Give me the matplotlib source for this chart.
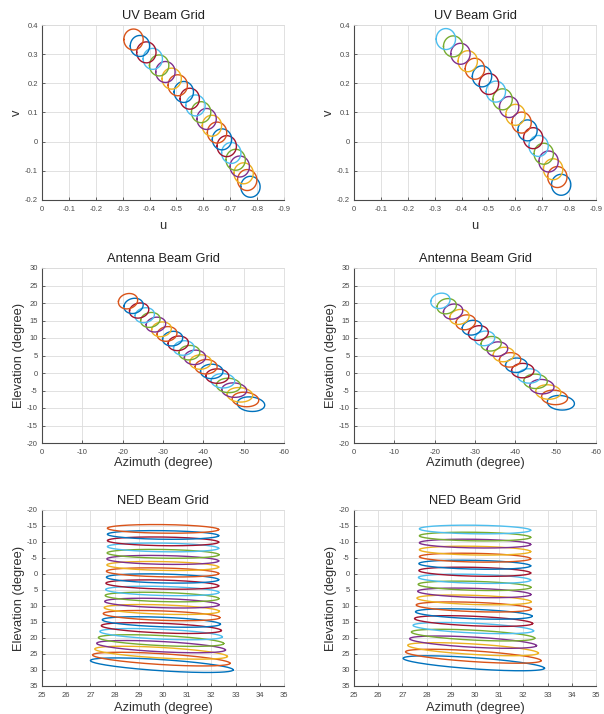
import numpy as np
import matplotlib
matplotlib.use("Agg")
import matplotlib.pyplot as plt

plt.rcParams['font.family'] = ['Liberation Sans', 'DejaVu Sans']
plt.rcParams['axes.unicode_minus'] = False

# MATLAB default line colour order
beam_colors = ['#0072BD', '#D95319', '#EDB120', '#7E2F8E',
               '#77AC30', '#4DBEEE', '#A2142F']

# Beam radius in direction-cosine space
beam_radius_uv = 0.036

# ---- Scan A (23 beams, listed in plotting order) ----
scan_a_u = [-0.7752, -0.7631, -0.7498, -0.7354, -0.7201, -0.7039, -0.6870, -0.6694,
            -0.6510, -0.6319, -0.6122, -0.5918, -0.5708, -0.5494, -0.5273, -0.5048,
            -0.4822, -0.4590, -0.4357, -0.4120, -0.3881, -0.3642, -0.3403]
scan_a_v = [-0.1547, -0.1316, -0.1085, -0.0852, -0.0621, -0.0387, -0.0154, 0.0079,
            0.0312, 0.0546, 0.0778, 0.1011, 0.1243, 0.1473, 0.1704, 0.1934,
            0.2161, 0.2389, 0.2614, 0.2839, 0.3062, 0.3282, 0.3502]
# NED footprints: centre azimuth/elevation, half width, half height, tilt
scan_a_ned_az = [29.95, 29.93, 29.92, 29.92, 29.92, 29.92, 29.93, 29.93, 29.94, 29.95,
                 29.95, 29.96, 29.97, 29.97, 29.98, 29.98, 29.99, 29.99, 30.00, 30.00,
                 30.00, 30.00, 30.00]
scan_a_ned_el = [28.5, 26.6, 24.6, 22.7, 20.8, 18.8, 16.9, 15.0, 13.0, 11.1,
                 9.1, 7.2, 5.3, 3.3, 1.4, -0.5, -2.5, -4.4, -6.3, -8.3,
                 -10.2, -12.2, -14.1]
scan_a_ned_hw = [2.95, 2.84, 2.74, 2.66, 2.59, 2.53, 2.48, 2.44, 2.41, 2.38,
                 2.36, 2.35, 2.34, 2.33, 2.32, 2.32, 2.31, 2.31, 2.31, 2.30,
                 2.30, 2.30, 2.30]
scan_a_ned_hh = [1.75, 1.70, 1.65, 1.61, 1.57, 1.54, 1.51, 1.49, 1.47, 1.45,
                 1.43, 1.42, 1.41, 1.40, 1.39, 1.38, 1.37, 1.37, 1.36, 1.35,
                 1.35, 1.34, 1.34]
scan_a_ned_tilt = [1.45, 1.30, 1.16, 1.04, 0.93, 0.84, 0.76, 0.69, 0.63, 0.58,
                   0.53, 0.49, 0.45, 0.42, 0.39, 0.36, 0.33, 0.31, 0.28, 0.26,
                   0.24, 0.22, 0.20]

# ---- Scan B (20 beams, listed in plotting order) ----
scan_b_u = [-0.7704, -0.7562, -0.7406, -0.7236, -0.7056, -0.6864, -0.6663, -0.6452,
            -0.6232, -0.6004, -0.5769, -0.5526, -0.5276, -0.5020, -0.4761, -0.4496,
            -0.4230, -0.3960, -0.3688, -0.3416]
scan_b_v = [-0.1478, -0.1213, -0.0946, -0.0680, -0.0414, -0.0147, 0.0120, 0.0387,
            0.0654, 0.0920, 0.1187, 0.1452, 0.1716, 0.1978, 0.2239, 0.2499,
            0.2758, 0.3013, 0.3267, 0.3518]
scan_b_ned_az = [29.95, 29.93, 29.92, 29.92, 29.92, 29.93, 29.94, 29.95, 29.95, 29.96,
                 29.97, 29.98, 29.98, 29.99, 29.99, 30.00, 30.00, 30.00, 30.00, 30.00]
scan_b_ned_el = [27.9, 25.7, 23.5, 21.3, 19.1, 16.9, 14.7, 12.5, 10.3, 8.1,
                 5.9, 3.7, 1.5, -0.7, -2.9, -5.1, -7.3, -9.5, -11.7, -13.9]
scan_b_ned_hw = [2.92, 2.80, 2.70, 2.62, 2.55, 2.49, 2.44, 2.41, 2.38, 2.36,
                 2.34, 2.33, 2.32, 2.31, 2.31, 2.30, 2.30, 2.30, 2.30, 2.30]
scan_b_ned_hh = [1.75, 1.69, 1.64, 1.59, 1.55, 1.52, 1.49, 1.47, 1.45, 1.43,
                 1.41, 1.40, 1.39, 1.38, 1.37, 1.36, 1.36, 1.35, 1.34, 1.34]
scan_b_ned_tilt = [1.55, 1.38, 1.22, 1.08, 0.96, 0.86, 0.77, 0.69, 0.62, 0.56,
                   0.51, 0.46, 0.42, 0.38, 0.35, 0.32, 0.29, 0.26, 0.24, 0.22]

# Axis ticks and labels
uv_xticks = [0, -0.1, -0.2, -0.3, -0.4, -0.5, -0.6, -0.7, -0.8, -0.9]
uv_xticklabels = ['0', '-0.1', '-0.2', '-0.3', '-0.4', '-0.5', '-0.6', '-0.7', '-0.8', '-0.9']
uv_yticks = [-0.2, -0.1, 0, 0.1, 0.2, 0.3, 0.4]
uv_yticklabels = ['-0.2', '-0.1', '0', '0.1', '0.2', '0.3', '0.4']
ant_xticks = [0, -10, -20, -30, -40, -50, -60]
ant_yticks = [-20, -15, -10, -5, 0, 5, 10, 15, 20, 25, 30]
ned_xticks = [25, 26, 27, 28, 29, 30, 31, 32, 33, 34, 35]
ned_yticks = [-20, -15, -10, -5, 0, 5, 10, 15, 20, 25, 30, 35]

W, H = 604, 714
fig = plt.figure(figsize=(W / 100, H / 100), dpi=100)

t = np.linspace(0, 2 * np.pi, 240)


def add_axes_px(x0, y0, x1, y1):
    return fig.add_axes([x0 / W, 1 - y1 / H, (x1 - x0) / W, (y1 - y0) / H])


def style(ax, title, xlabel, ylabel, xlim, ylim, xticks, yticks,
          xticklabels=None, yticklabels=None, xlabelpad=2.0):
    ax.set_xlim(*xlim)
    ax.set_ylim(*ylim)
    ax.set_xticks(xticks)
    ax.set_yticks(yticks)
    if xticklabels is not None:
        ax.set_xticklabels(xticklabels)
    if yticklabels is not None:
        ax.set_yticklabels(yticklabels)
    ax.grid(True, color='#dcdcdc', linewidth=0.6)
    ax.set_axisbelow(True)
    for side in ('top', 'right'):
        ax.spines[side].set_color('#dcdcdc')
        ax.spines[side].set_linewidth(0.6)
    for side in ('left', 'bottom'):
        ax.spines[side].set_color('#4a4a4a')
        ax.spines[side].set_linewidth(0.8)
    ax.tick_params(direction='in', length=2.5, width=0.6, colors='#4a4a4a',
                   labelsize=5.5, top=False, right=False)
    ax.tick_params(axis='x', pad=4)
    ax.tick_params(axis='y', pad=3)
    ax.set_title(title, fontsize=9.3, color='#202020', pad=4)
    ax.set_xlabel(xlabel, fontsize=9.3, color='#303030', labelpad=xlabelpad)
    ax.set_ylabel(ylabel, fontsize=9.3, color='#303030', labelpad=1.2)


scans = [
    (scan_a_u, scan_a_v, scan_a_ned_az, scan_a_ned_el, scan_a_ned_hw,
     scan_a_ned_hh, scan_a_ned_tilt),
    (scan_b_u, scan_b_v, scan_b_ned_az, scan_b_ned_el, scan_b_ned_hw,
     scan_b_ned_hh, scan_b_ned_tilt),
]
col_x = [(42, 284), (354, 596)]
lw = 1.0

for (u_c, v_c, n_az, n_el, n_hw, n_hh, n_tilt), (x0, x1) in zip(scans, col_x):
    ax_uv = add_axes_px(x0, 25, x1, 200)
    ax_ant = add_axes_px(x0, 268, x1, 443)
    ax_ned = add_axes_px(x0, 510, x1, 686)

    for k in range(len(u_c)):
        c = beam_colors[k % len(beam_colors)]
        # beam outline in u/v space
        uu = u_c[k] + beam_radius_uv * np.cos(t)
        vv = v_c[k] + beam_radius_uv * np.sin(t)
        ax_uv.plot(uu, vv, color=c, linewidth=lw)
        # same outline mapped to antenna azimuth/elevation
        el = np.degrees(np.arcsin(vv))
        az = np.degrees(np.arcsin(uu / np.cos(np.radians(el))))
        ax_ant.plot(az, el, color=c, linewidth=lw)
        # footprint in NED azimuth/elevation
        naz = n_az[k] + n_hw[k] * np.cos(t)
        nel = n_el[k] + n_tilt[k] * np.cos(t) + n_hh[k] * np.sin(t)
        ax_ned.plot(naz, nel, color=c, linewidth=lw)

    style(ax_uv, 'UV Beam Grid', 'u', 'v', (0, -0.9), (-0.2, 0.4),
          uv_xticks, uv_yticks, uv_xticklabels, uv_yticklabels, xlabelpad=5.5)
    style(ax_ant, 'Antenna Beam Grid', 'Azimuth (degree)', 'Elevation (degree)',
          (0, -60), (-20, 30), ant_xticks, ant_yticks, xlabelpad=0.8)
    style(ax_ned, 'NED Beam Grid', 'Azimuth (degree)', 'Elevation (degree)',
          (25, 35), (35, -20), ned_xticks, ned_yticks, xlabelpad=2.2)

fig.savefig('out.png', dpi=100, facecolor='white')
